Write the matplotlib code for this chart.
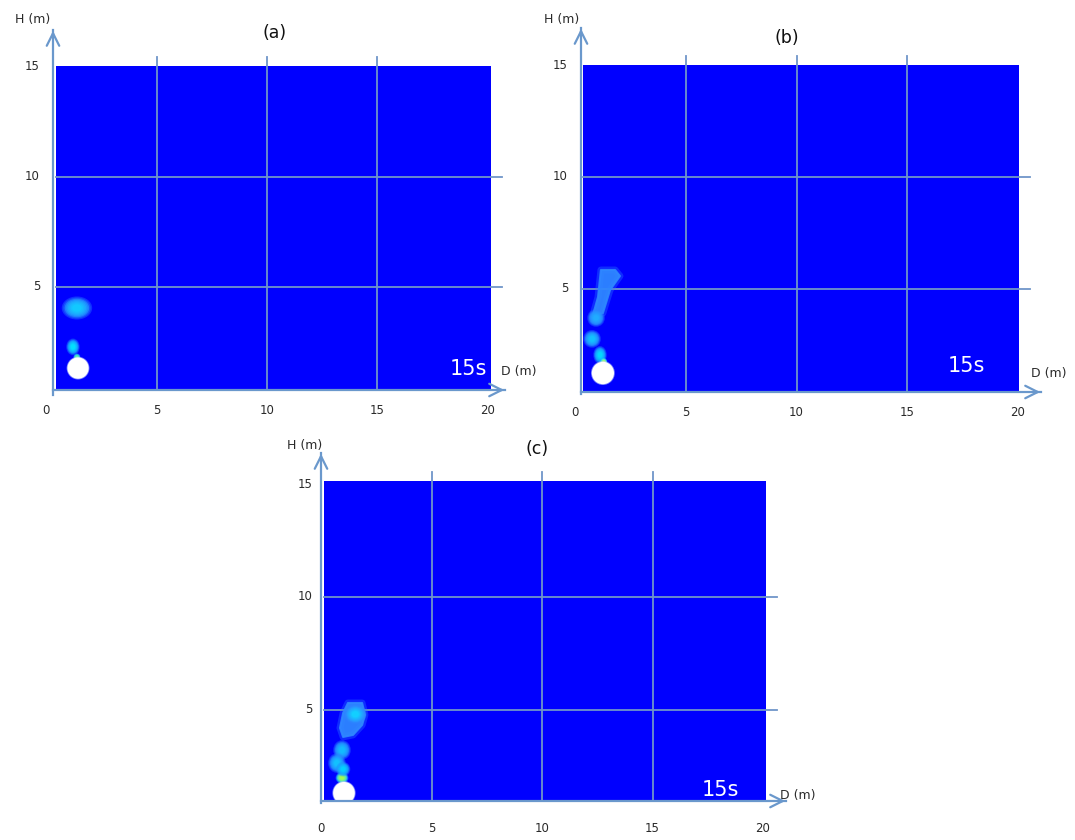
import matplotlib
matplotlib.use("Agg")
import matplotlib.pyplot as plt
from matplotlib.patches import Ellipse, Polygon
from matplotlib.colors import to_rgb

W, H = 1075, 840

# Datos del penacho (metros) para cada caso, tiempo 15 s
tick_x = [0, 5, 10, 15, 20]
tick_y = [5, 10, 15]
titulos = ["(a)", "(b)", "(c)"]
tiempo = "15s"

# fuente (circulo blanco): x, y, radio
fuente_a = (1.45, 1.33, 0.48)
fuente_b = (1.26, 1.21, 0.50)
fuente_c = (1.04, 1.29, 0.49)

# manchas: x, y, ancho, alto
manchas_a_x = [1.40, 1.22, 1.40]
manchas_a_y = [4.05, 2.29, 1.83]
manchas_a_w = [0.95, 0.42, 0.22]
manchas_a_h = [0.72, 0.52, 0.22]

manchas_b_x = [0.95, 0.77, 1.13, 1.30]
manchas_b_y = [3.68, 2.74, 2.02, 1.72]
manchas_b_w = [0.55, 0.55, 0.42, 0.22]
manchas_b_h = [0.55, 0.55, 0.55, 0.22]

manchas_c_x = [0.95, 0.72, 0.95, 1.00]
manchas_c_y = [3.20, 2.62, 1.96, 2.35]
manchas_c_w = [0.55, 0.55, 0.40, 0.45]
manchas_c_h = [0.60, 0.60, 0.35, 0.45]

# contorno del penacho superior
penacho_b_x = [1.17, 1.81, 2.03, 1.58, 1.26, 0.81, 1.04]
penacho_b_y = [5.83, 5.83, 5.56, 4.93, 3.90, 3.81, 4.62]
penacho_c_x = [1.22, 1.86, 1.99, 1.86, 1.45, 1.00, 0.86, 1.00]
penacho_c_y = [5.29, 5.29, 4.76, 4.31, 3.87, 3.78, 4.18, 4.84]

# colores de las manchas (centro, borde) por mancha
col_a = [("#10d0ff", "#2a8cff"), ("#00e8ff", "#2090ff"), ("#60ffa0", "#20c0ff")]
col_b = [("#20b0ff", "#2a84ff"), ("#10c8ff", "#2a84ff"), ("#00e0ff", "#2090ff"), ("#c0ff60", "#20e0ff")]
col_c = [("#10c0ff", "#2a84ff"), ("#10c8ff", "#2a84ff"), ("#b0ff40", "#20e0ff"), ("#00d8ff", "#2090ff")]

AZUL = "#0000ff"
GRID = "#6f95c9"
FLECHA = "#6a98cc"
TEXTO = "#2a2a2a"

# layout de cada panel en pixeles: origen, escala, rectangulo azul, flechas, textos
paneles = [
    dict(ox=46, oy=397.5, sx=22.1, sy=22.1, rect=(56, 66, 491, 389),
         yarrow=(53, 395, 28), xarrow=(390, 53, 507), xlab_y=410, ylab_x=40,
         titulo=(275, 33), hm=(33, 20), dm=(519, 372), t=(468, 369),
         fuente=fuente_a, mx=manchas_a_x, my=manchas_a_y, mw=manchas_a_w, mh=manchas_a_h,
         col=col_a, px=None, py=None),
    dict(ox=575, oy=400, sx=22.15, sy=22.3, rect=(583, 65, 1019, 392),
         yarrow=(581, 394, 26), xarrow=(392, 581, 1043), xlab_y=412, ylab_x=568,
         titulo=(787, 38), hm=(562, 20), dm=(1049, 374), t=(966, 366),
         fuente=fuente_b, mx=manchas_b_x, my=manchas_b_y, mw=manchas_b_w, mh=manchas_b_h,
         col=col_b, px=penacho_b_x, py=penacho_b_y),
    dict(ox=321, oy=822, sx=22.1, sy=22.5, rect=(324, 481, 766, 800),
         yarrow=(321, 803, 451), xarrow=(801, 321, 788), xlab_y=829, ylab_x=313,
         titulo=(537, 449), hm=(305, 446), dm=(798, 795), t=(720, 790),
         fuente=fuente_c, mx=manchas_c_x, my=manchas_c_y, mw=manchas_c_w, mh=manchas_c_h,
         col=col_c, px=penacho_c_x, py=penacho_c_y),
]


def fp(x, y):
    # pixeles de imagen -> pixeles de figura
    return (x, H - y)


def mezcla(c1, c2, f):
    a, b = to_rgb(c1), to_rgb(c2)
    return tuple(a[k] * (1 - f) + b[k] * f for k in range(3))


def mancha(ax, x, y, w, h, cin, cout):
    # mancha difusa: capas de mayor a menor, del borde al centro
    n = 8
    for k in range(n):
        f = k / (n - 1)
        esc = 1.45 - 1.0 * f
        ax.add_patch(Ellipse((x, y), w * esc, h * esc, facecolor=mezcla(cout, cin, f),
                             edgecolor="none", alpha=0.35 if k < 2 else 0.6, zorder=3))


fig = plt.figure(figsize=(W / 100, H / 100), dpi=100)
fig.patch.set_facecolor("white")

for i, p in enumerate(paneles):
    l, t, r, b = p["rect"]
    ax = fig.add_axes([l / W, 1 - b / H, (r - l) / W, (b - t) / H])
    ax.set_facecolor(AZUL)
    ax.set_xlim((l - p["ox"]) / p["sx"], (r - p["ox"]) / p["sx"])
    ax.set_ylim((p["oy"] - b) / p["sy"], (p["oy"] - t) / p["sy"])
    for s in ax.spines.values():
        s.set_visible(False)
    ax.set_xticks([])
    ax.set_yticks([])

    x0, x1 = ax.get_xlim()
    y0, y1 = ax.get_ylim()
    ext_x = 11 / p["sx"]
    ext_y = 9 / p["sy"]
    for gy in [5, 10]:
        ax.plot([x0, x1 + ext_x], [gy, gy], color=GRID, lw=1.3, clip_on=False, zorder=1)
    for gx in [5, 10, 15]:
        ax.plot([gx, gx], [y0, y1 + ext_y], color=GRID, lw=1.3, clip_on=False, zorder=1)

    # penacho
    if p["px"] is not None:
        xy = list(zip(p["px"], p["py"]))
        ax.add_patch(Polygon(xy, closed=True, facecolor="#2a7cff", edgecolor="#2a7cff",
                             lw=5, alpha=0.35, joinstyle="round", zorder=2))
        ax.add_patch(Polygon(xy, closed=True, facecolor="#2f88ff", edgecolor="#2f88ff",
                             lw=1.5, alpha=0.9, joinstyle="round", zorder=2))
        if i == 2:
            cx = sum(p["px"]) / len(p["px"])
            cy = max(p["py"]) - 0.5
            mancha(ax, cx + 0.15, cy, 0.7, 0.6, "#10d8ff", "#2f88ff")

    for j in range(len(p["mx"])):
        mancha(ax, p["mx"][j], p["my"][j], p["mw"][j], p["mh"][j], p["col"][j][0], p["col"][j][1])

    fx, fy, fr = p["fuente"]
    ax.add_patch(Ellipse((fx, fy), 2.15 * fr, 2.15 * fr, facecolor="#c8d8ff", alpha=0.6,
                         edgecolor="none", zorder=4))
    ax.add_patch(Ellipse((fx, fy), 2 * fr, 2 * fr, facecolor="white", edgecolor="none", zorder=5))

    # flechas de los ejes
    yx, yb, yt = p["yarrow"]
    fig.add_artist(plt.Line2D([yx, yx], [H - yb, H - yt - 2], transform=None,
                              color=FLECHA, lw=1.6))
    ax.annotate("", xy=fp(yx, yt), xytext=fp(yx, yt + 12), xycoords="figure pixels",
                textcoords="figure pixels",
                arrowprops=dict(arrowstyle="->,head_length=0.9,head_width=0.45",
                                color=FLECHA, lw=1.6))
    xy_, xl, xr = p["xarrow"]
    fig.add_artist(plt.Line2D([xl, xr - 2], [H - xy_, H - xy_], transform=None,
                              color=FLECHA, lw=1.6))
    ax.annotate("", xy=fp(xr, xy_), xytext=fp(xr - 12, xy_), xycoords="figure pixels",
                textcoords="figure pixels",
                arrowprops=dict(arrowstyle="->,head_length=0.9,head_width=0.45",
                                color=FLECHA, lw=1.6))

    # etiquetas de marcas
    for v in tick_x:
        fig.text((p["ox"] + v * p["sx"]) / W, 1 - p["xlab_y"] / H, str(v),
                 ha="center", va="center", fontsize=8.5, color=TEXTO)
    for v in tick_y:
        fig.text(p["ylab_x"] / W, 1 - (p["oy"] - v * p["sy"]) / H, str(v),
                 ha="right", va="center", fontsize=8.5, color=TEXTO)

    fig.text(p["titulo"][0] / W, 1 - p["titulo"][1] / H, titulos[i],
             ha="center", va="center", fontsize=12.5, color="#111111")
    fig.text(p["hm"][0] / W, 1 - p["hm"][1] / H, "H (m)",
             ha="center", va="center", fontsize=9, color=TEXTO)
    fig.text(p["dm"][0] / W, 1 - p["dm"][1] / H, "D (m)",
             ha="center", va="center", fontsize=9, color=TEXTO)
    fig.text(p["t"][0] / W, 1 - p["t"][1] / H, tiempo,
             ha="center", va="center", fontsize=15, color="white")

fig.savefig("out.png", dpi=100)
